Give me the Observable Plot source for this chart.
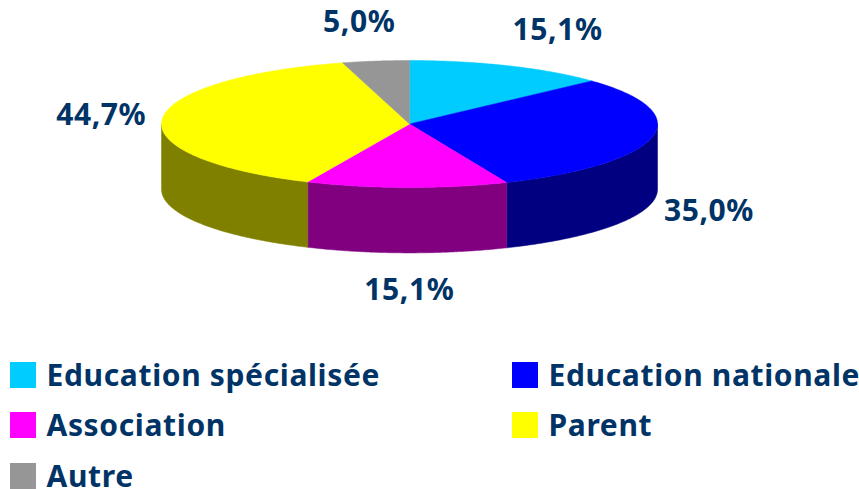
<!DOCTYPE html>
<html lang="fr">
<head>
<meta charset="utf-8">
<script src="https://cdn.jsdelivr.net/npm/d3@7"></script>
<script src="https://cdn.jsdelivr.net/npm/@observablehq/plot@0.6"></script>
<style>
  html, body { margin: 0; padding: 0; background: #fff; overflow: hidden; }
  #chart svg { display: block; }
  #chart text { letter-spacing: 0.6px; }
  #legend { position: relative; width: 859px; height: 149px; font: 700 30px/26px "Noto Sans", sans-serif; letter-spacing: 0.65px; color: #003366; }
  #legend .item { position: absolute; display: flex; align-items: center; height: 26px; white-space: nowrap; }
  #legend .swatch { width: 26px; height: 26px; margin-right: 10.5px; flex: none; }
  #legend span { display: inline-block; height: 26px; }
</style>
</head>
<body>
<div id="chart"></div>
<div id="legend"></div>
<script>
const categories = ["Education spécialisée", "Education nationale", "Association", "Parent", "Autre"];
const percents = [15.1, 35.0, 15.1, 44.7, 5.0];
const topColors = ["#00ccff", "#0000ff", "#ff00ff", "#ffff00", "#969696"];
const wallColors = ["#006680", "#000080", "#800080", "#808000", "#4b4b4b"];

// pixel nudges of each percentage label away from its slice's rim point
const labelDx = [48.5, 57, 2.5, -61, -16.5];
const labelDy = [-35, 74, 103, -4, -39];
const wallDepth = 1.03; // in units of the ellipse's vertical radius

const arcs = d3.pie().sort(null).startAngle(0).endAngle(2 * Math.PI)(percents);
const rim = (t) => [Math.sin(t), Math.cos(t)];

function sweep(a, b) {
  const n = Math.max(2, Math.ceil((b - a) / 0.01));
  return d3.range(n + 1).map((i) => rim(a + ((b - a) * i) / n));
}

const tops = arcs.flatMap((arc, i) =>
  [[0, 0], ...sweep(arc.startAngle, arc.endAngle)].map(([x, y]) => ({x, y, slice: i, color: topColors[i]}))
);

const walls = arcs.flatMap((arc, i) => {
  const a = Math.max(arc.startAngle, Math.PI / 2);
  const b = Math.min(arc.endAngle, 1.5 * Math.PI);
  if (a >= b) return [];
  const upper = sweep(a, b);
  const lower = upper.map(([x, y]) => [x, y - wallDepth]).reverse();
  return [...upper, ...lower].map(([x, y]) => ({x, y, slice: i, color: wallColors[i]}));
});

const labelMarks = arcs.map((arc, i) => {
  const [x, y] = rim((arc.startAngle + arc.endAngle) / 2);
  return Plot.text([{x, y, label: percents[i].toFixed(1).replace(".", ",") + "%"}], {
    x: "x", y: "y", text: "label",
    dx: labelDx[i], dy: labelDy[i],
    fill: "#003366", fontSize: 30, fontWeight: 700,
    fontFamily: '"Noto Sans", sans-serif', textAnchor: "middle", lineAnchor: "middle"
  });
});

const chart = Plot.plot({
  width: 859,
  height: 340,
  margin: 0,
  style: {background: "#fff"},
  x: {domain: [-1, 1], range: [161, 657], axis: null},
  y: {domain: [-1, 1], range: [187, 60], axis: null},
  marks: [
    Plot.line(walls, {x: "x", y: "y", z: "slice", fill: "color", stroke: "color", strokeWidth: 0.5, curve: "linear-closed"}),
    Plot.line(tops, {x: "x", y: "y", z: "slice", fill: "color", stroke: "color", strokeWidth: 0.5, curve: "linear-closed"}),
    ...labelMarks
  ]
});
document.getElementById("chart").append(chart);

// Legend below the SVG: two columns, filled row by row
const legend = d3.select("#legend");
const colLeft = [10, 512];
const rowTop = [22, 72, 123];
categories.forEach((name, i) => {
  const item = legend.append("div").attr("class", "item")
    .style("left", colLeft[i % 2] + "px")
    .style("top", rowTop[Math.floor(i / 2)] + "px");
  item.append("div").attr("class", "swatch").style("background", topColors[i]);
  item.append("span").text(name);
});
</script>
</body>
</html>
